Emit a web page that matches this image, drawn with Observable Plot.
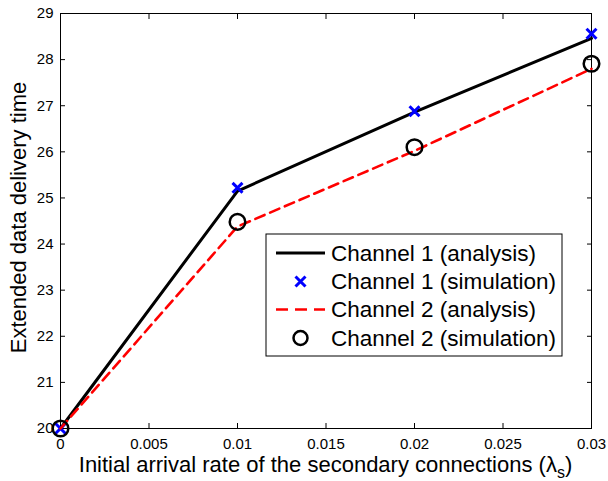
<!DOCTYPE html>
<html>
<head>
<meta charset="utf-8">
<script src="https://cdn.jsdelivr.net/npm/d3@7"></script>
<script src="https://cdn.jsdelivr.net/npm/@observablehq/plot@0.6"></script>
<style>
  html, body { margin: 0; padding: 0; background: #fff; }
  #chart { position: relative; width: 608px; height: 481px; }
</style>
</head>
<body>
<div id="chart"></div>
<script>
// ---- data ----
const rates = [0, 0.01, 0.02, 0.03];
const ch1Analysis = [20, 25.15, 26.86, 28.46];
const ch1Simulation = [20, 25.22, 26.88, 28.56];
const ch2Analysis = [20, 24.38, 26.02, 27.8];
const ch2Simulation = [20, 24.48, 26.1, 27.91];
const xTicks = [0, 0.005, 0.01, 0.015, 0.02, 0.025, 0.03];
const xTickLabels = ["0", "0.005", "0.01", "0.015", "0.02", "0.025", "0.03"];
const yTicks = [20, 21, 22, 23, 24, 25, 26, 27, 28, 29];
const yTickLabels = ["20", "21", "22", "23", "24", "25", "26", "27", "28", "29"];
const seriesNames = ["Channel 1 (analysis)", "Channel 1 (simulation)", "Channel 2 (analysis)", "Channel 2 (simulation)"];
const xLabel = "Initial arrival rate of the secondary connections (\u03BB";
const xLabelSub = "s";
const yLabel = "Extended data delivery time";

const toRows = (vals) => rates.map((r, i) => ({x: r, y: vals[i]}));
const c1a = toRows(ch1Analysis), c1s = toRows(ch1Simulation);
const c2a = toRows(ch2Analysis), c2s = toRows(ch2Simulation);

const FONT = "'Liberation Sans', Arial, Helvetica, sans-serif";
const TICK_FS = 15;

const chart = Plot.plot({
  width: 608,
  height: 481,
  marginLeft: 60,
  marginRight: 17,
  marginTop: 13,
  marginBottom: 53,
  style: {fontFamily: FONT, fontSize: TICK_FS + "px", color: "black", background: "white", overflow: "visible"},
  x: {domain: [0, 0.03]},
  y: {domain: [20, 29]},
  marks: [
    Plot.axisX(xTicks, {anchor: "bottom", tickSize: 0, tickPadding: 10, fontSize: TICK_FS, label: null,
      tickFormat: (d) => xTickLabels[xTicks.indexOf(d)]}),
    Plot.axisY(yTicks, {anchor: "left", tickSize: 0, tickPadding: 7, fontSize: TICK_FS, label: null,
      tickFormat: (d) => yTickLabels[yTicks.indexOf(d)]}),
    Plot.axisX(xTicks, {anchor: "bottom", tickSize: -5, tickFormat: () => "", label: null}),
    Plot.axisX(xTicks, {anchor: "top", tickSize: -5, tickFormat: () => "", label: null}),
    Plot.axisY(yTicks, {anchor: "left", tickSize: -5, tickFormat: () => "", label: null}),
    Plot.axisY(yTicks, {anchor: "right", tickSize: -5, tickFormat: () => "", label: null}),
    Plot.frame({stroke: "black", strokeWidth: 1}),
    Plot.line(c1a, {x: "x", y: "y", stroke: "black", strokeWidth: 3}),
    Plot.dot(c1s, {x: "x", y: "y", symbol: "times", r: 4.6, stroke: "#0000ff", strokeWidth: 3}),
    Plot.line(c2a, {x: "x", y: "y", stroke: "#ff0000", strokeWidth: 2.6, strokeDasharray: "10,6"}),
    Plot.dot(c2s, {x: "x", y: "y", symbol: "circle", r: 7.8, stroke: "black", fill: "none", strokeWidth: 2.5})
  ]
});

document.getElementById("chart").appendChild(chart);

const svg = d3.select(chart);
const xs = chart.scale("x"), ys = chart.scale("y");
const plotLeft = xs.range[0], plotRight = xs.range[1];
const plotTop = ys.range[1], plotBottom = ys.range[0];

// axis labels
const xl = svg.append("text")
  .attr("x", (plotLeft + plotRight) / 2)
  .attr("y", 472)
  .attr("text-anchor", "middle")
  .attr("font-family", FONT)
  .attr("font-size", 22)
  .attr("fill", "black");
xl.append("tspan").text(xLabel);
xl.append("tspan").attr("font-size", 16).attr("dy", 6).text(xLabelSub);
xl.append("tspan").attr("dy", -6).text(")");

svg.append("text")
  .attr("transform", `translate(26,${(plotTop + plotBottom) / 2 - 3}) rotate(-90)`)
  .attr("text-anchor", "middle")
  .attr("font-family", FONT)
  .attr("font-size", 22)
  .attr("fill", "black")
  .text(yLabel);

// legend
const lg = svg.append("g").attr("font-family", FONT).attr("font-size", 22.5).attr("text-anchor", "start");
const lx = 266, ly = 234, lw = 296, lh = 122;
lg.append("rect").attr("x", lx).attr("y", ly).attr("width", lw).attr("height", lh)
  .attr("fill", "white").attr("stroke", "black").attr("stroke-width", 1);
const rowY = [253, 281.5, 309.5, 338];
const sx1 = 276, sx2 = 325, sxm = (sx1 + sx2) / 2;
lg.append("line").attr("x1", sx1).attr("x2", sx2).attr("y1", rowY[0]).attr("y2", rowY[0])
  .attr("stroke", "black").attr("stroke-width", 3);
lg.append("path").attr("d", `M${sxm-5},${rowY[1]-5}L${sxm+5},${rowY[1]+5}M${sxm-5},${rowY[1]+5}L${sxm+5},${rowY[1]-5}`)
  .attr("stroke", "#0000ff").attr("stroke-width", 3).attr("fill", "none");
lg.append("line").attr("x1", sx1).attr("x2", sx2).attr("y1", rowY[2]).attr("y2", rowY[2])
  .attr("stroke", "#ff0000").attr("stroke-width", 2.6).attr("stroke-dasharray", "12,7");
lg.append("circle").attr("cx", sxm).attr("cy", rowY[3]).attr("r", 7)
  .attr("stroke", "black").attr("stroke-width", 2.5).attr("fill", "none");
seriesNames.forEach((name, i) => {
  lg.append("text").attr("x", 331).attr("y", rowY[i]).attr("dy", "0.35em")
    .attr("text-anchor", "start").attr("fill", "black").text(name);
});
</script>
</body>
</html>
